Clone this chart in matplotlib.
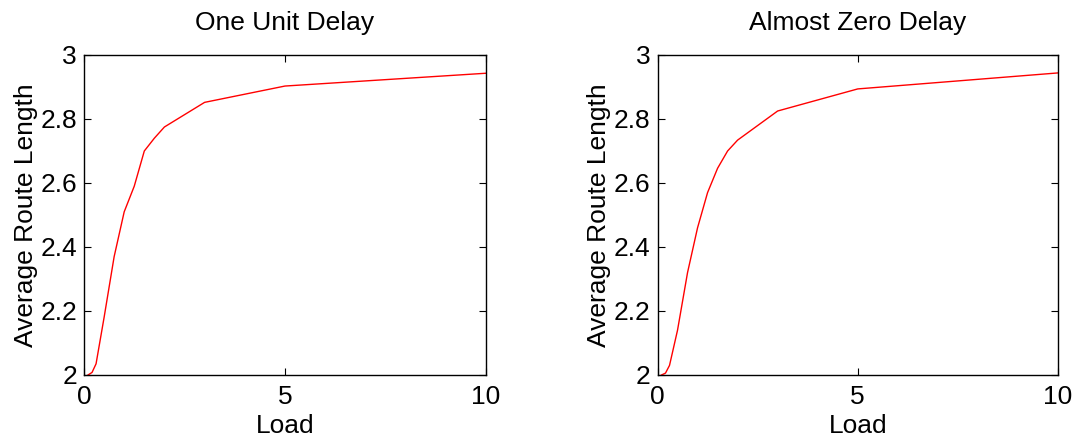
import matplotlib
matplotlib.use("Agg")
import matplotlib.pyplot as plt

plt.rcParams['font.family'] = ['Liberation Sans', 'DejaVu Sans']

load_one = [0.1, 0.2, 0.3, 0.5, 0.75, 1.0, 1.25, 1.5, 1.75, 2.0, 3.0, 5.0, 10.0]
route_one = [2.0, 2.008, 2.035, 2.18, 2.37, 2.51, 2.59, 2.70, 2.74, 2.775, 2.852, 2.903, 2.943]

load_zero = [0.1, 0.2, 0.3, 0.5, 0.75, 1.0, 1.25, 1.5, 1.75, 2.0, 3.0, 5.0, 10.0]
route_zero = [2.0, 2.006, 2.03, 2.14, 2.32, 2.46, 2.57, 2.646, 2.70, 2.734, 2.825, 2.894, 2.944]

titles = ["One Unit Delay", "Almost Zero Delay"]
xticks = [0, 5, 10]
yticks = [2, 2.2, 2.4, 2.6, 2.8, 3]
yticklabels = ["2", "2.2", "2.4", "2.6", "2.8", "3"]

fig = plt.figure(figsize=(10.75, 4.37), dpi=100)
W, H = 1075, 437
boxes = [(84, 55, 486, 375), (657.5, 55, 1058, 375)]
data = [(load_one, route_one), (load_zero, route_zero)]

for (x0, y0, x1, y1), (xs, ys), title in zip(boxes, data, titles):
    ax = fig.add_axes([x0 / W, 1 - y1 / H, (x1 - x0) / W, (y1 - y0) / H])
    ax.plot(xs, ys, color='red', lw=1.0)
    ax.set_xlim(0, 10)
    ax.set_ylim(2, 3)
    ax.set_xticks(xticks)
    ax.set_xticklabels([str(t) for t in xticks])
    ax.set_yticks(yticks)
    ax.set_yticklabels(yticklabels)
    ax.tick_params(direction='in', top=True, right=True, labelsize=19,
                   length=5, width=0.8)
    ax.tick_params(axis='x', pad=7)
    ax.tick_params(axis='y', pad=5)
    for s in ax.spines.values():
        s.set_linewidth(1.0)
    ax.set_title(title, fontsize=19, pad=18)
    ax.set_xlabel("Load", fontsize=19, labelpad=4)
    ax.set_ylabel("Average Route Length", fontsize=19, labelpad=2)

fig.savefig("out.png", dpi=100)
